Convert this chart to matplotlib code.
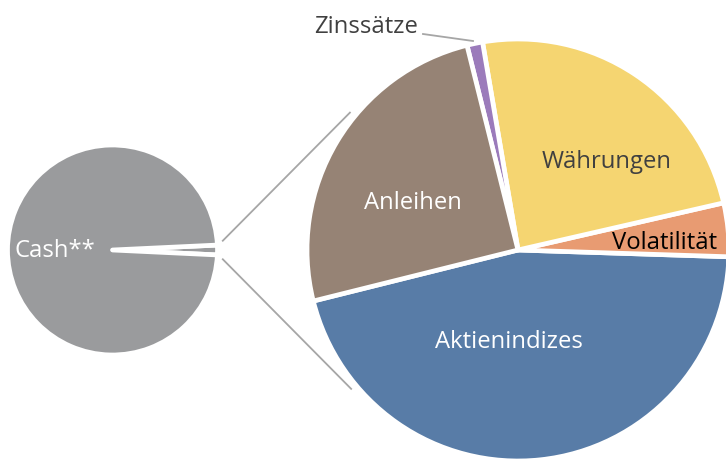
import matplotlib
matplotlib.use("Agg")
import matplotlib.pyplot as plt
import numpy as np

plt.rcParams['font.family'] = ['Open Sans', 'DejaVu Sans']

# Data (shares)
main_labels = ["Aktienindizes", "Volatilität", "Währungen", "Zinssätze", "Anleihen"]
main_values = [45.6, 4.1, 24.1, 1.2, 25.0]
main_colors = ["#587ca7", "#e89b72", "#f5d571", "#9b7bbb", "#968375"]
main_text_colors = ["white", "black", "#404040", "#404040", "white"]

small_labels = ["Rest", "Cash**"]
small_values = [1.5, 98.5]
small_colors = ["#9a9b9d", "#9a9b9d"]

W, H = 726, 460
fig = plt.figure(figsize=(W / 100, H / 100), dpi=100)
ax = fig.add_axes([0, 0, 1, 1])

big_c = (518, H - 251)
big_r = 211
small_c = (112.5, H - 251)
small_r = 105

# small pie: "Rest" slice centred on 0 degrees
small_start = -small_values[0] / 100 * 360 / 2
ax.pie(small_values, colors=small_colors, startangle=small_start, counterclock=True,
       center=small_c, radius=small_r, frame=True,
       wedgeprops=dict(edgecolor="white", linewidth=3.4, joinstyle="round"))

# big pie
big_start = -166
wedges, _ = ax.pie(main_values, colors=main_colors, startangle=big_start, counterclock=True,
                   center=big_c, radius=big_r, frame=True,
                   wedgeprops=dict(edgecolor="white", linewidth=3.4))
ax.set_xlim(0, W)
ax.set_ylim(0, H)
ax.set_aspect('equal')
ax.axis('off')

# connector lines from small pie "Rest" slice to big pie
half = np.deg2rad(4.5)
for sgn, tgt in [(1, 140.5), (-1, -140.0)]:
    x0 = small_c[0] + (small_r + 5) * np.cos(sgn * half)
    y0 = small_c[1] + (small_r + 5) * np.sin(sgn * half)
    a = np.deg2rad(tgt)
    x1 = big_c[0] + (big_r + 6) * np.cos(a)
    y1 = big_c[1] + (big_r + 6) * np.sin(a)
    ax.plot([x0, x1], [y0, y1], color="#a6a6a6", lw=1.3, solid_capstyle="butt")

fs = 17.2
# labels inside big pie
label_pos = {
    "Aktienindizes": (509, H - 342),
    "Volatilität": (665, H - 243),
    "Währungen": (607, H - 162),
    "Anleihen": (413, H - 203),
}
for lab, col in zip(main_labels, main_text_colors):
    if lab in label_pos:
        x, y = label_pos[lab]
        ax.text(x, y, lab, color=col, fontsize=fs, ha="center", va="center")

# Zinssätze outside label with leader line
ax.text(366, H - 27, "Zinssätze", color="#404040", fontsize=fs, ha="center", va="center")
ax.plot([423, 473], [H - 35, H - 42], color="#a6a6a6", lw=1.3)

# small pie label
ax.text(14, H - 251, small_labels[1], color="white", fontsize=fs, ha="left", va="center")

fig.savefig("out.png", dpi=100)
